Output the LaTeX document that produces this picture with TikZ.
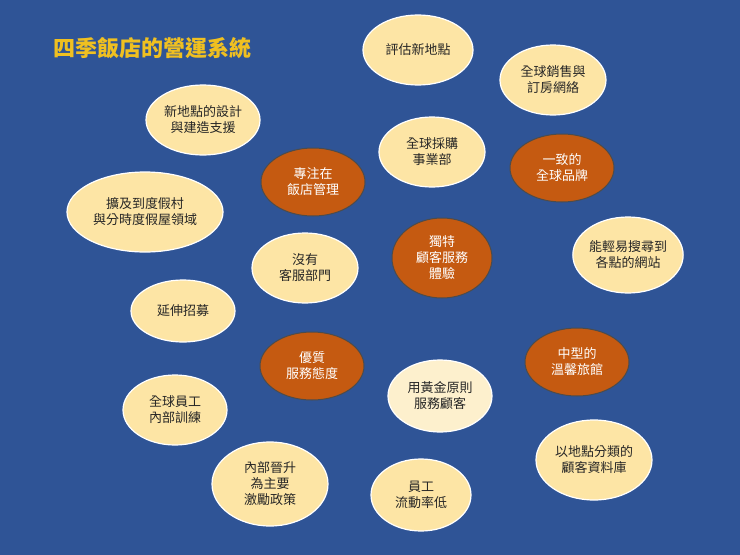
\documentclass[tikz,border=0pt]{standalone}
\usepackage{fontspec}
\setmainfont{Noto Sans CJK TC}
\usetikzlibrary{shapes.geometric,backgrounds}
\definecolor{bg}{RGB}{47,84,150}
\definecolor{dk}{RGB}{197,90,17}
\definecolor{lt}{RGB}{253,229,165}
\definecolor{lt2}{RGB}{253,240,205}
\definecolor{ttl}{RGB}{240,192,32}
\definecolor{ln}{RGB}{215,225,240}
\tikzset{
 lnode/.style={ellipse,fill=lt,draw=white,line width=1.2pt,inner sep=0pt,align=center,font=\fontsize{13}{16}\selectfont,text=black!85},
 dnode/.style={ellipse,fill=dk,draw=black!70,line width=1pt,inner sep=0pt,align=center,font=\fontsize{13}{16}\selectfont,text=white},
 link/.style={draw=ln,line width=1.2pt}
}
\begin{document}
\begin{tikzpicture}[x=1pt,y=-1pt]
\fill[bg] (0,0) rectangle (740,555);
\useasboundingbox (0,0) rectangle (740,555);
\node[anchor=west,text=ttl,font=\fontsize{22}{26}\selectfont\bfseries] (title) at (50,48) {四季飯店的營運系統};
\node[lnode,minimum width=110,minimum height=70] (a) at (418,50) {評估新地點};
\node[lnode,minimum width=106,minimum height=70] (b) at (553,80) {全球銷售與\\訂房網絡};
\node[lnode,minimum width=114,minimum height=70] (c) at (203,120) {新地點的設計\\與建造支援};
\node[lnode,minimum width=106,minimum height=70] (d) at (432,152) {全球採購\\事業部};
\node[dnode,minimum width=104,minimum height=68] (e) at (313,182) {專注在\\飯店管理};
\node[dnode,minimum width=104,minimum height=68] (f) at (562,168) {一致的\\全球品牌};
\node[lnode,minimum width=156,minimum height=80] (g) at (145,212) {擴及到度假村\\與分時度假屋領域};
\node[dnode,minimum width=100,minimum height=80] (h) at (442,258) {獨特\\顧客服務\\體驗};
\node[lnode,minimum width=110,minimum height=76] (i) at (628,255) {能輕易搜尋到\\各點的網站};
\node[lnode,minimum width=106,minimum height=70] (j) at (305,268) {沒有\\客服部門};
\node[lnode,minimum width=104,minimum height=62] (k) at (183,311) {延伸招募};
\node[dnode,minimum width=104,minimum height=68] (l) at (312,366) {優質\\服務態度};
\node[dnode,minimum width=104,minimum height=68] (m) at (577,362) {中型的\\溫馨旅館};
\node[lnode,fill=lt2,minimum width=104,minimum height=72] (n) at (440,396) {用黃金原則\\服務顧客};
\node[lnode,minimum width=104,minimum height=70] (o) at (175,410) {全球員工\\內部訓練};
\node[lnode,minimum width=116,minimum height=84] (p) at (270,484) {內部晉升\\為主要\\激勵政策};
\node[lnode,minimum width=116,minimum height=80] (q) at (594,460) {以地點分類的\\顧客資料庫};
\node[lnode,minimum width=100,minimum height=72] (r) at (421,495) {員工\\流動率低};
\begin{pgfonlayer}{background}
\draw[link] (a) -- (e);
\draw[draw=black,line width=1pt] (a) -- (f);
\draw[link,draw=gray!80] (b) -- (f);
\draw[link] (c) -- (e);
\draw[link] (g) -- (e);
\draw[link] (d) -- (e);
\draw[link] (d) -- (f);
\draw[link] (e) -- (h);
\draw[link] (f) -- (h);
\draw[link] (f) -- (i);
\draw[link] (j) -- (h);
\draw[link] (h) -- (l);
\draw[link] (h) -- (n);
\draw[link] (h) -- (m);
\draw[link] (k) -- (l);
\draw[link] (l) -- (o);
\draw[link] (l) -- (p);
\draw[link] (l) -- (n);
\draw[link,draw=gray!70] (o) -- (p);
\draw[link] (p) -- (r);
\draw[link] (n) -- (m);
\draw[link] (m) -- (r);
\draw[link] (m) -- (q);
\end{pgfonlayer}
\end{tikzpicture}
\end{document}
